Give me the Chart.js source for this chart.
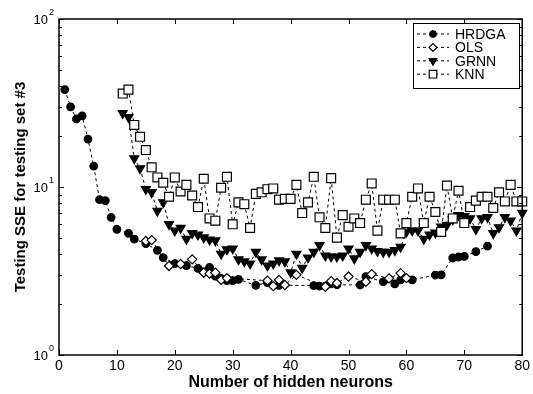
<!DOCTYPE html>
<html><head><meta charset="utf-8">
<script src="https://cdn.jsdelivr.net/npm/chart.js@4"></script>
<style>html,body{margin:0;padding:0;background:#fff}#wrap{width:533px;height:394px}</style>
</head><body><div id="wrap"><canvas id="c" width="533" height="394"></canvas></div>
<script>
const seriesNames = ['HRDGA', 'OLS', 'GRNN', 'KNN'];
const hrdgaX = [1,2,3,4,5,6,7,8,9,10,12,13,15,17,18,20,22,24,25,26,27,28,29,30,31,34,36,38,44,45,46,47,48,52,53,56,58,59,61,65,66,68,69,70,72,74];
const hrdgaY = [38,30,25.4,26.5,19.3,13.3,8.4,8.3,6.6,5.6,5.3,4.9,4.6,4.2,3.8,3.5,3.4,3.28,3.13,3.32,2.95,2.86,2.77,2.77,2.82,2.6,2.7,2.6,2.59,2.57,2.57,2.65,2.62,2.61,2.93,2.73,2.65,2.8,2.8,2.99,3.0,3.78,3.83,3.86,4.12,4.45];
const olsX = [15,16,19,21,23,25,26,27,28,29,36,37,38,39,41,46,47,48,50,53,54,57,59,60];
const olsY = [4.77,4.83,3.39,3.48,3.71,3.09,3.05,3.09,2.8,2.87,2.77,2.57,2.8,2.61,3.0,2.55,2.75,2.68,2.93,2.73,3.03,2.86,3.07,2.87];
const grnnX = [11,12,13,14,15,16,17,18,19,20,21,22,23,24,25,26,27,28,29,30,31,32,33,34,35,36,37,38,39,40,41,42,43,44,45,46,47,48,49,50,51,52,53,54,55,56,57,58,59,60,61,62,63,64,65,66,67,68,69,70,71,72,73,74,75,76,77,78,79,80];
const grnnY = [27.5,26,14.8,12.9,9.7,9.3,7.2,8.1,6.0,5.5,5.7,4.9,5.3,5.2,5.0,4.85,4.8,4.0,4.25,4.3,3.7,3.6,3.5,4.1,3.7,3.4,3.5,3.65,3.6,3.1,4.0,3.3,3.8,4.1,4.5,3.9,3.85,3.85,3.9,4.3,3.75,4.1,4.5,4.3,4.15,4.1,4.1,4.2,4.4,5.4,5.5,5.5,4.9,5.2,5.35,5.8,5.95,6.4,6.8,6.7,6.5,5.6,6.5,6.6,5.3,5.75,6.6,6.3,5.5,7.0];
const knnX = [11,12,13,14,15,16,17,18,19,20,21,22,23,24,25,26,27,28,29,30,31,32,33,34,35,36,37,38,39,40,41,42,43,44,45,46,47,48,49,50,51,52,53,54,55,56,57,58,59,60,61,62,63,64,65,66,67,68,69,70,71,72,73,74,75,76,77,78,79,80];
const knnY = [36,38,23.4,19.9,16.6,13.1,11.4,10.6,8.75,11.4,9.4,10.3,8.9,7.6,11.2,6.5,6.3,9.9,11.5,6.0,8.1,7.9,5.7,9.1,9.3,9.7,9.8,8.4,8.5,8.5,10.3,7.0,8.1,11.5,6.6,5.7,11.3,5.0,6.8,5.8,6.5,6.1,8.4,10.5,5.5,8.4,8.4,8.4,5.3,6.1,8.75,9.8,6.1,8.75,7.1,5.4,10.2,6.5,9.5,6.1,7.6,8.3,8.75,8.75,7.5,9.3,8.2,10.3,8.2,8.2];
const xTickValues = [0,10,20,30,40,50,60,70,80];
const yTickValues = [1,10,100];
const yTickExps = ['0','1','2'];

const FONT = '"Liberation Sans", Arial, sans-serif';
const pts = (xs, ys) => xs.map((x, i) => ({x: x, y: ys[i]}));

const styles = [
  {pointStyle:'circle', pointRadius:3.8, fill:'#000', rot:0},
  {pointStyle:'rectRot', pointRadius:4.6, fill:'#fff', rot:0},
  {pointStyle:'triangle', pointRadius:5.2, fill:'#000', rot:180},
  {pointStyle:'rect', pointRadius:6.3, fill:'#fff', rot:0}
];
const dataList = [pts(hrdgaX,hrdgaY), pts(olsX,olsY), pts(grnnX,grnnY), pts(knnX,knnY)];

const datasets = seriesNames.map((name, i) => ({
  label: name,
  data: dataList[i],
  borderColor: '#000',
  borderWidth: 1,
  borderDash: [3,3],
  backgroundColor: styles[i].fill,
  pointStyle: styles[i].pointStyle,
  pointRadius: styles[i].pointRadius,
  pointRotation: styles[i].rot,
  pointBorderColor: '#000',
  pointBackgroundColor: styles[i].fill,
  pointBorderWidth: 1.2,
  tension: 0,
  clip: 8,
  order: 3 - i
}));

const boxPlugin = {
  id: 'box',
  afterDraw(chart) {
    const {ctx, chartArea: a, scales: {x, y}} = chart;
    ctx.save();
    ctx.strokeStyle = '#000';
    ctx.lineWidth = 1;
    ctx.beginPath();
    xTickValues.forEach(v => {
      const px = Math.round(x.getPixelForValue(v)) + 0.5;
      ctx.moveTo(px, a.bottom); ctx.lineTo(px, a.bottom - 5);
      ctx.moveTo(px, a.top); ctx.lineTo(px, a.top + 5);
    });
    for (let d = 1; d < 100; d *= 10) {
      for (let k = 1; k <= 10; k++) {
        const v = d * k;
        const py = Math.round(y.getPixelForValue(v)) + 0.5;
        const len = (k === 1 || k === 10) ? 5 : 3;
        ctx.moveTo(a.left, py); ctx.lineTo(a.left + len, py);
        ctx.moveTo(a.right, py); ctx.lineTo(a.right - len, py);
      }
    }
    ctx.stroke();
    ctx.lineWidth = 1.5;
    ctx.strokeRect(a.left, a.top, a.right - a.left, a.bottom - a.top);

    // y tick labels 10^n
    ctx.fillStyle = '#000';
    yTickValues.forEach((v, i) => {
      const py = y.getPixelForValue(v);
      ctx.font = '13px ' + FONT;
      ctx.textAlign = 'right';
      ctx.textBaseline = 'middle';
      ctx.fillText('10', 48, py + 1);
      ctx.font = '9px ' + FONT;
      ctx.textAlign = 'left';
      ctx.fillText(yTickExps[i], 49, py - 6);
    });

    // legend
    const lx = 413, ly = 23, lw = 106, lh = 65;
    ctx.fillStyle = '#fff';
    ctx.fillRect(lx, ly, lw, lh);
    ctx.lineWidth = 1;
    ctx.strokeStyle = '#000';
    ctx.strokeRect(lx + 0.5, ly + 0.5, lw, lh);
    chart.data.datasets.forEach((ds, i) => {
      const cy = 34 + i * 13.4;
      ctx.beginPath();
      ctx.setLineDash([3,3]);
      ctx.lineWidth = 1;
      ctx.moveTo(417, cy); ctx.lineTo(449, cy);
      ctx.stroke();
      ctx.setLineDash([]);
      ctx.fillStyle = ds.pointBackgroundColor;
      ctx.strokeStyle = '#000';
      ctx.lineWidth = 1.2;
      Chart.helpers.drawPoint(ctx, {pointStyle: ds.pointStyle, rotation: ds.pointRotation, radius: ds.pointRadius * 0.85, borderWidth: 1.2}, 433, cy);
      ctx.fillStyle = '#000';
      ctx.font = '14px ' + FONT;
      ctx.textAlign = 'left';
      ctx.textBaseline = 'middle';
      ctx.fillText(ds.label, 455, cy + 1);
    });
    ctx.restore();
  }
};

new Chart(document.getElementById('c'), {
  type: 'line',
  data: {datasets},
  plugins: [boxPlugin],
  options: {
    responsive: false,
    animation: false,
    devicePixelRatio: 1,
    layout: {padding: {top: 19, right: 8, left: 0, bottom: 0}},
    plugins: {legend: {display: false}, tooltip: {enabled: false}},
    scales: {
      x: {
        type: 'linear', min: 0, max: 80,
        afterBuildTicks: s => { s.ticks = xTickValues.map(v => ({value: v})); },
        ticks: {color: '#000', font: {family: FONT, size: 14}, padding: 3, maxRotation: 0},
        grid: {display: false, drawTicks: false},
        border: {display: false},
        title: {display: true, text: 'Number of hidden neurons', color: '#000', font: {family: FONT, size: 16, weight: 'bold'}, padding: {top: 0, bottom: 2}},
        afterFit: s => { s.height = 39; }
      },
      y: {
        type: 'logarithmic', min: 1, max: 100,
        ticks: {display: false},
        grid: {display: false, drawTicks: false},
        border: {display: false},
        title: {display: true, text: 'Testing SSE for testing set #3', color: '#000', font: {family: FONT, size: 15, weight: 'bold'}, padding: {top: 12, bottom: 0}},
        afterFit: s => { s.width = 59; }
      }
    }
  }
});
</script></body></html>
